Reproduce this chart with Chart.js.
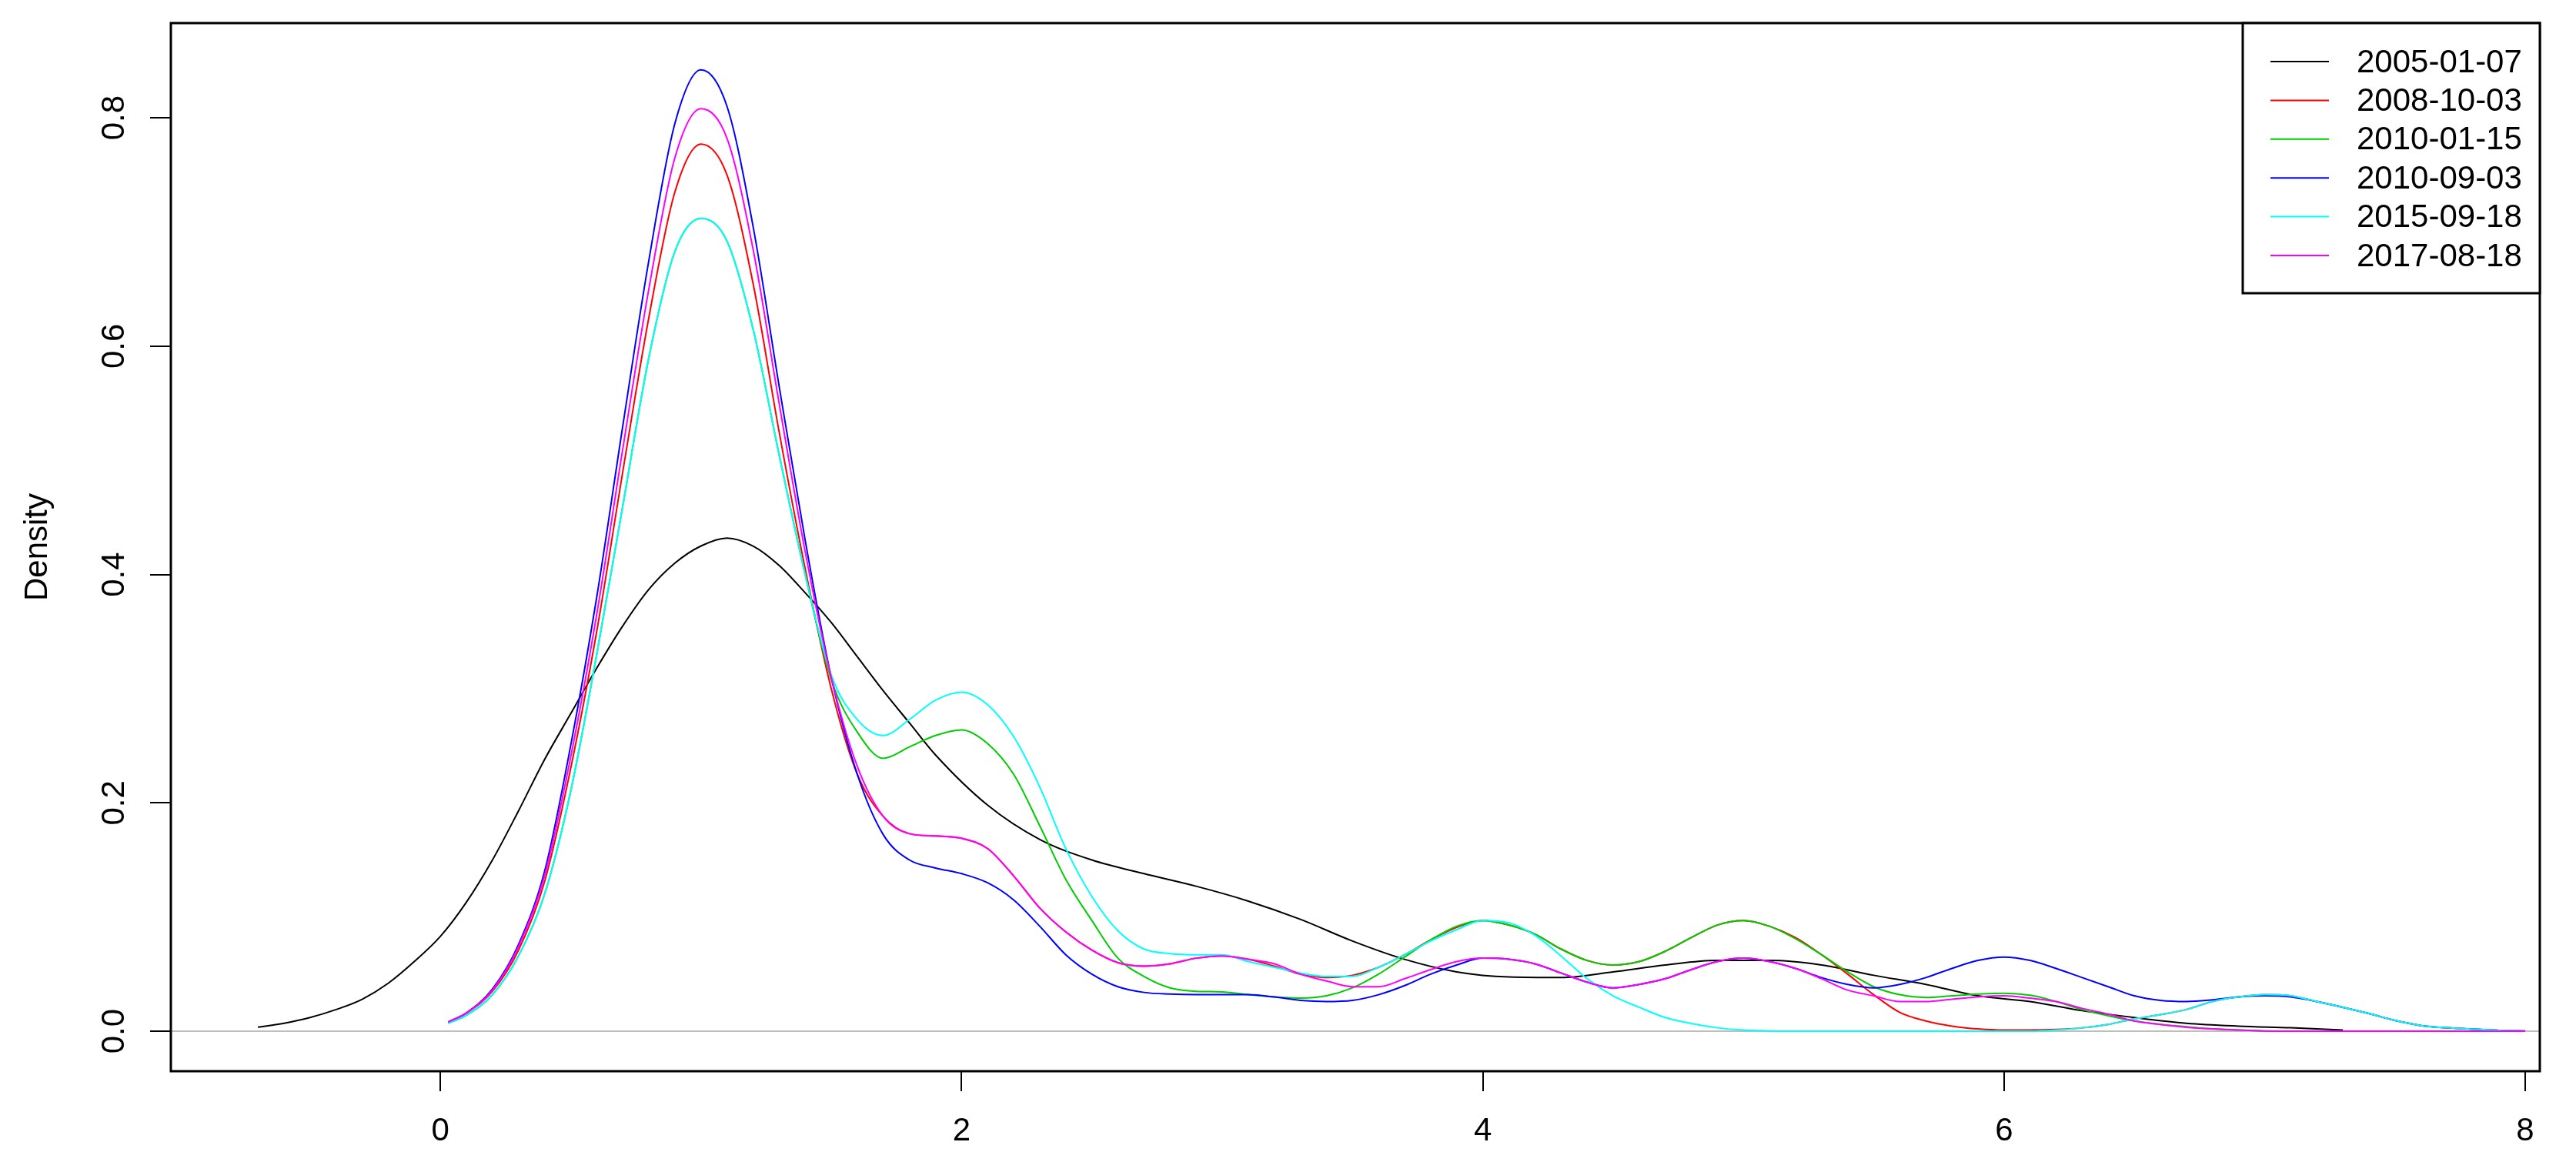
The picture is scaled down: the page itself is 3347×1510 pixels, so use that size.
<!DOCTYPE html>
<html>
<head>
<meta charset="utf-8">
<script src="https://cdn.jsdelivr.net/npm/chart.js@4.4.1/dist/chart.umd.min.js"></script>
<style>
    html, body { margin: 0; padding: 0; background: #fff; }
    #wrap { width: 3347px; height: 1510px; }
</style>
</head>
<body>
<div id="wrap"><canvas id="densidad" width="3347" height="1510"></canvas></div>
<script>
// Series (leyenda) y colores de la paleta de R
const fechas = ['2005-01-07', '2008-10-03', '2010-01-15', '2010-09-03', '2015-09-18', '2017-08-18'];
const colores = ['#000000', '#FF0000', '#00CD00', '#0000FF', '#00FFFF', '#FF00FF'];

// Ticks de los ejes
const xTicks = [0, 2, 4, 6, 8];
const yTicks = [0, 0.2, 0.4, 0.6, 0.8];

// Curva negra (2005-01-07), rango propio
const xNegro = [-0.7, -0.6, -0.5, -0.4, -0.3, -0.2, -0.1, 0.0, 0.1, 0.2, 0.3, 0.4, 0.5, 0.6, 0.7, 0.8, 0.9, 1.0, 1.1, 1.2,
    1.3, 1.4, 1.5, 1.6, 1.7, 1.8, 1.9, 2.1, 2.3, 2.5, 2.7, 2.9, 3.1, 3.3, 3.5, 3.7, 3.9, 4.1, 4.3, 4.5,
    4.7, 4.9, 5.1, 5.3, 5.5, 5.7, 5.9, 6.1, 6.3, 6.5, 6.7, 6.9, 7.1, 7.3];
const y2005 = [0.0036, 0.007, 0.012, 0.019, 0.028, 0.042, 0.061, 0.083, 0.113, 0.15, 0.193, 0.238, 0.278, 0.318, 0.355, 0.387, 0.41, 0.425, 0.432, 0.425,
    0.408, 0.384, 0.358, 0.328, 0.298, 0.27, 0.242, 0.198, 0.168, 0.15, 0.138, 0.127, 0.114, 0.098, 0.079, 0.063, 0.052, 0.0475, 0.047, 0.052,
    0.058, 0.062, 0.062, 0.058, 0.049, 0.041, 0.031, 0.026, 0.018, 0.012, 0.007, 0.0045, 0.003, 0.001];

// Las demás curvas comparten la misma malla
const xColor = [0.03, 0.1, 0.2, 0.3, 0.4, 0.5, 0.6, 0.7, 0.8, 0.9,
    1.0, 1.1, 1.2, 1.3, 1.4, 1.5, 1.6, 1.7, 1.8, 1.9,
    2.0, 2.1, 2.2, 2.3, 2.4, 2.5, 2.6, 2.7, 2.8, 2.9,
    3.0, 3.1, 3.2, 3.3, 3.4, 3.5, 3.6, 3.7, 3.8, 3.9,
    4.0, 4.1, 4.2, 4.3, 4.4, 4.5, 4.6, 4.7, 4.8, 4.9,
    5.0, 5.1, 5.2, 5.3, 5.4, 5.5, 5.6, 5.7, 5.8, 5.9,
    6.0, 6.1, 6.2, 6.3, 6.4, 6.5, 6.6, 6.7, 6.8, 6.9,
    7.0, 7.1, 7.2, 7.3, 7.4, 7.5, 7.6, 7.7, 7.8, 7.9,
    8.0];
const y2008 = [0.008, 0.016, 0.035, 0.071, 0.131, 0.23, 0.35, 0.49, 0.625, 0.735,
    0.777, 0.75, 0.655, 0.525, 0.405, 0.30, 0.225, 0.188, 0.173, 0.171,
    0.169, 0.16, 0.136, 0.108, 0.087, 0.071, 0.06, 0.057, 0.059, 0.064,
    0.066, 0.063, 0.057, 0.05, 0.047, 0.049, 0.056, 0.067, 0.08, 0.091,
    0.097, 0.093, 0.085, 0.072, 0.062, 0.058, 0.061, 0.07, 0.082, 0.093,
    0.097, 0.092, 0.082, 0.067, 0.05, 0.032, 0.0165, 0.009, 0.0045, 0.002,
    0.001, 0.001, 0.0015, 0.003, 0.006, 0.0108, 0.0145, 0.019, 0.026, 0.03,
    0.032, 0.031, 0.026, 0.021, 0.0155, 0.0095, 0.005, 0.003, 0.0018, 0.0008,
    0.0003];
const y2010a = [0.007, 0.014, 0.032, 0.066, 0.12, 0.21, 0.33, 0.46, 0.59, 0.683,
    0.712, 0.692, 0.615, 0.505, 0.40, 0.308, 0.262, 0.239, 0.249, 0.259,
    0.264, 0.252, 0.225, 0.18, 0.133, 0.097, 0.064, 0.048, 0.038, 0.035,
    0.0345, 0.032, 0.030, 0.029, 0.031, 0.038, 0.05, 0.065, 0.08, 0.092,
    0.097, 0.093, 0.085, 0.072, 0.062, 0.058, 0.061, 0.07, 0.082, 0.093,
    0.097, 0.092, 0.081, 0.067, 0.052, 0.039, 0.032, 0.0296, 0.031, 0.0325,
    0.0333, 0.0315, 0.026, 0.019, 0.0135, 0.009, 0.006, 0.004, 0.002, 0.001,
    0.0003, 0, 0, 0, 0, 0, 0, 0, 0, 0,
    0];
const y2010b = [0.008, 0.016, 0.037, 0.076, 0.14, 0.25, 0.38, 0.53, 0.675, 0.795,
    0.842, 0.81, 0.705, 0.565, 0.43, 0.31, 0.225, 0.172, 0.15, 0.143,
    0.138, 0.13, 0.115, 0.092, 0.067, 0.05, 0.039, 0.034, 0.0325, 0.032,
    0.032, 0.032, 0.03, 0.027, 0.026, 0.027, 0.032, 0.04, 0.05, 0.058,
    0.064, 0.063, 0.059, 0.051, 0.043, 0.038, 0.041, 0.046, 0.054, 0.061,
    0.064, 0.061, 0.055, 0.047, 0.041, 0.038, 0.041, 0.047, 0.055, 0.062,
    0.065, 0.062, 0.055, 0.047, 0.039, 0.031, 0.027, 0.026, 0.0275, 0.03,
    0.031, 0.03, 0.026, 0.021, 0.0155, 0.0095, 0.005, 0.003, 0.0018, 0.0008,
    0.0003];
const y2015 = [0.007, 0.014, 0.032, 0.066, 0.12, 0.21, 0.33, 0.46, 0.59, 0.683,
    0.712, 0.692, 0.615, 0.505, 0.40, 0.312, 0.273, 0.259, 0.273, 0.29,
    0.297, 0.286, 0.258, 0.214, 0.16, 0.118, 0.088, 0.072, 0.068, 0.067,
    0.067, 0.061, 0.056, 0.051, 0.048, 0.048, 0.056, 0.067, 0.079, 0.089,
    0.097, 0.095, 0.084, 0.066, 0.046, 0.031, 0.021, 0.012, 0.0068, 0.003,
    0.001, 0.0003, 0, 0, 0, 0, 0, 0, 0, 0,
    0, 0, 0.001, 0.003, 0.006, 0.0108, 0.0145, 0.019, 0.026, 0.03,
    0.032, 0.031, 0.026, 0.021, 0.0155, 0.0095, 0.005, 0.003, 0.0018, 0.0008,
    0.0003];
const y2017 = [0.008, 0.016, 0.036, 0.074, 0.136, 0.24, 0.365, 0.51, 0.65, 0.765,
    0.808, 0.782, 0.685, 0.55, 0.42, 0.31, 0.232, 0.188, 0.173, 0.171,
    0.169, 0.16, 0.136, 0.108, 0.087, 0.071, 0.06, 0.057, 0.059, 0.064,
    0.066, 0.063, 0.059, 0.05, 0.044, 0.039, 0.039, 0.046, 0.054, 0.061,
    0.064, 0.063, 0.059, 0.051, 0.043, 0.038, 0.041, 0.046, 0.054, 0.061,
    0.064, 0.061, 0.055, 0.046, 0.036, 0.031, 0.026, 0.026, 0.028, 0.030,
    0.031, 0.029, 0.026, 0.02, 0.015, 0.009, 0.006, 0.0035, 0.002, 0.001,
    0.0003, 0, 0, 0, 0, 0, 0, 0, 0, 0,
    0];

const series = [[xNegro, y2005], [xColor, y2008], [xColor, y2010a], [xColor, y2010b], [xColor, y2015], [xColor, y2017]];
const fuente = '"Liberation Sans", Arial, sans-serif';

// Marco, linea gris en 0, etiquetas rotadas del eje y, titulo y leyenda al estilo R
const marcoR = {
    id: 'marcoR',
    beforeDatasetsDraw(chart) {
        const { ctx, chartArea: a, scales } = chart;
        const y0 = scales.y.getPixelForValue(0);
        ctx.save();
        ctx.strokeStyle = '#BEBEBE';
        ctx.lineWidth = 2;
        ctx.beginPath();
        ctx.moveTo(a.left, y0);
        ctx.lineTo(a.right, y0);
        ctx.stroke();
        ctx.restore();
    },
    afterDraw(chart) {
        const { ctx, chartArea: a, scales } = chart;
        ctx.save();
        ctx.strokeStyle = '#000';
        ctx.lineWidth = 3;
        ctx.strokeRect(a.left, a.top, a.right - a.left, a.bottom - a.top);

        ctx.fillStyle = '#000';
        ctx.font = '42px ' + fuente;
        ctx.textAlign = 'center';
        ctx.textBaseline = 'alphabetic';
        yTicks.forEach(v => {
            ctx.save();
            ctx.translate(a.left - 61, scales.y.getPixelForValue(v));
            ctx.rotate(-Math.PI / 2);
            ctx.fillText(v.toFixed(1), 0, 0);
            ctx.restore();
        });
        ctx.save();
        ctx.translate(a.left - 161, (a.top + a.bottom) / 2);
        ctx.rotate(-Math.PI / 2);
        ctx.fillText('Density', 0, 0);
        ctx.restore();

        // leyenda
        const ancho = 386, alto = 351;
        const lx = a.right - ancho, ly = a.top;
        ctx.fillStyle = '#fff';
        ctx.fillRect(lx, ly, ancho, alto);
        ctx.strokeStyle = '#000';
        ctx.lineWidth = 3;
        ctx.strokeRect(lx, ly, ancho, alto);
        ctx.textAlign = 'left';
        ctx.textBaseline = 'middle';
        chart.data.datasets.forEach((ds, i) => {
            const fy = ly + 50 + i * 50.4;
            ctx.strokeStyle = ds.borderColor;
            ctx.lineWidth = 2;
            ctx.beginPath();
            ctx.moveTo(lx + 36, fy);
            ctx.lineTo(lx + 112, fy);
            ctx.stroke();
            ctx.fillStyle = '#000';
            ctx.fillText(ds.label, lx + 148, fy + 2);
        });
        ctx.restore();
    }
};

const ctx = document.getElementById('densidad').getContext('2d');
window.densidadChart = new Chart(ctx, {
    type: 'line',
    data: {
        datasets: series.map((s, i) => ({
            label: fechas[i],
            data: s[0].map((x, j) => ({ x: x, y: s[1][j] })),
            borderColor: colores[i],
            borderWidth: 2,
            pointRadius: 0,
            fill: false,
            // R dibuja en orden: la primera serie queda debajo
            order: series.length - i,
            cubicInterpolationMode: 'monotone'
        }))
    },
    options: {
        responsive: false,
        devicePixelRatio: 1,
        animation: false,
        layout: { padding: { left: 0, right: 47, top: 30, bottom: 0 } },
        plugins: {
            legend: { display: false },
            tooltip: { enabled: false }
        },
        scales: {
            x: {
                type: 'linear',
                min: -1.034,
                max: 8.056,
                afterBuildTicks: s => { s.ticks = xTicks.map(v => ({ value: v })); },
                afterFit: s => { s.height = 118; },
                grid: { display: true, drawOnChartArea: false, drawTicks: true, tickLength: 26, color: '#000', lineWidth: 2 },
                border: { display: false },
                ticks: { font: { family: fuente, size: 42 }, color: '#000', padding: 27, maxRotation: 0, autoSkip: false }
            },
            y: {
                type: 'linear',
                min: -0.035,
                max: 0.883,
                afterBuildTicks: s => { s.ticks = yTicks.map(v => ({ value: v })); },
                afterFit: s => { s.width = 222; },
                grid: { display: true, drawOnChartArea: false, drawTicks: true, tickLength: 27, color: '#000', lineWidth: 2 },
                border: { display: false },
                ticks: { display: false }
            }
        }
    },
    plugins: [marcoR]
});
</script>
</body>
</html>
